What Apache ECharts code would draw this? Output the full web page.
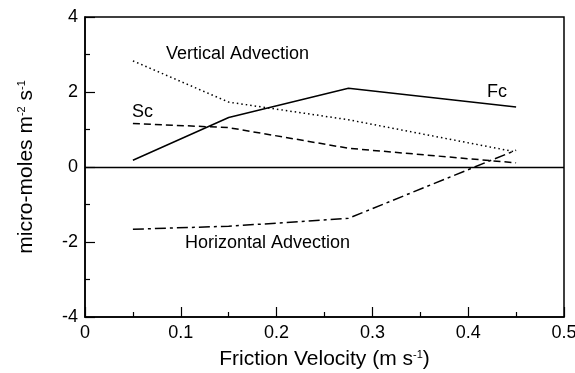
<!DOCTYPE html>
<html><head><meta charset="utf-8">
<script src="https://cdn.jsdelivr.net/npm/echarts@6/dist/echarts.min.js"></script>
<style>html,body{margin:0;padding:0;background:#fff}#c{width:575px;height:373px}</style>
</head><body><div id="c"></div>
<script>
const xVals = [0.05, 0.15, 0.275, 0.45];
const fc = [0.18, 1.32, 2.1, 1.6];
const verticalAdv = [2.83, 1.73, 1.26, 0.4];
const sc = [1.16, 1.05, 0.5, 0.11];
const horizontalAdv = [-1.66, -1.58, -1.37, 0.45];
const xTicks = [0, 0.1, 0.2, 0.3, 0.4, 0.5];
const yTicks = [-4, -2, 0, 2, 4];

const pair = arr => xVals.map((x, i) => [x, arr[i]]);
const FONT = 'Liberation Sans, Arial, Helvetica, sans-serif';
const chart = echarts.init(document.getElementById('c'), null, {renderer: 'canvas'});
const lineBase = (name, data, type) => ({
  name, type: 'line', data: pair(data), symbol: 'none', silent: true,
  lineStyle: {color: '#000', width: 1.5, type}
});
const supStyle = {fontSize: 11, verticalAlign: 'top', padding: [0,0,10,0], fontFamily: FONT, color: '#000'};
chart.setOption({
  animation: false,
  backgroundColor: '#fff',
  grid: {left: 85, right: 11, top: 17, bottom: 56, show: true, borderColor: '#000', borderWidth: 1.5,
    containLabel: false, outerBoundsMode: 'none'},
  xAxis: {
    type: 'value', min: 0, max: 0.5, interval: 0.1,
    name: 'Friction Velocity (m s{sup|-1})', nameLocation: 'middle', nameGap: 32,
    nameTextStyle: {fontFamily: FONT, fontSize: 21, color: '#000', rich: {sup: supStyle}},
    axisLine: {show: true, onZero: false, lineStyle: {color: '#000', width: 1.5}},
    axisTick: {show: true, inside: true, length: 10, lineStyle: {color: '#000', width: 1.2}},
    minorTick: {show: true, splitNumber: 2, length: 5, lineStyle: {color: '#000', width: 1.2}},
    splitLine: {show: false},
    axisLabel: {fontFamily: FONT, fontSize: 18, color: '#000', margin: 7,
      formatter: v => xTicks.some(t => Math.abs(t - v) < 1e-9) ? String(+v.toFixed(1)) : ''}
  },
  yAxis: {
    type: 'value', min: -4, max: 4, interval: 2,
    name: 'micro-moles m{sup|-2} s{sup|-1}', nameLocation: 'middle', nameGap: 48, nameRotate: 90,
    nameTextStyle: {fontFamily: FONT, fontSize: 21, color: '#000', rich: {sup: supStyle}},
    axisLine: {show: true, onZero: false, lineStyle: {color: '#000', width: 1.5}},
    axisTick: {show: true, inside: true, length: 10, lineStyle: {color: '#000', width: 1.2}},
    minorTick: {show: true, splitNumber: 2, length: 5, lineStyle: {color: '#000', width: 1.2}},
    splitLine: {show: false},
    axisLabel: {fontFamily: FONT, fontSize: 18, color: '#000', margin: 7,
      formatter: v => yTicks.includes(v) ? String(v) : ''}
  },
  series: [
    Object.assign(lineBase('Fc', fc, 'solid'), {
      markLine: {silent: true, symbol: 'none', label: {show: false},
        lineStyle: {color: '#000', width: 1.3, type: 'solid'}, data: [{yAxis: 0}]}
    }),
    lineBase('Vertical Advection', verticalAdv, [1.5, 3]),
    lineBase('Sc', sc, [7, 4]),
    lineBase('Horizontal Advection', horizontalAdv, [11, 4, 3, 4])
  ],
  graphic: [
    {type: 'text', left: 166, top: 45, style: {text: 'Vertical Advection', font: '18px ' + FONT, fill: '#000'}},
    {type: 'text', left: 132, top: 103, style: {text: 'Sc', font: '18px ' + FONT, fill: '#000'}},
    {type: 'text', left: 487, top: 83, style: {text: 'Fc', font: '18px ' + FONT, fill: '#000'}},
    {type: 'text', left: 185, top: 234, style: {text: 'Horizontal Advection', font: '18px ' + FONT, fill: '#000'}}
  ]
});
</script></body></html>
